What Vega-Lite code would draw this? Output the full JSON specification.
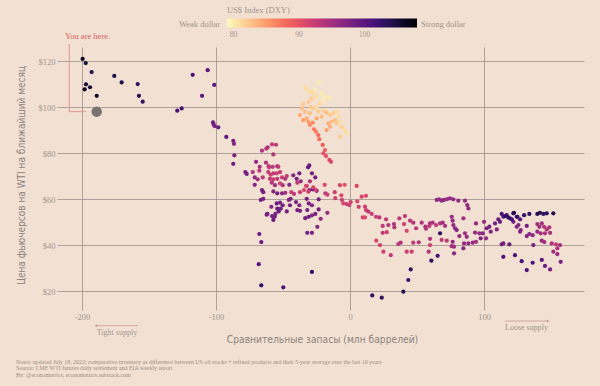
{
"$schema": "https://vega.github.io/schema/vega-lite/v6.json",
"width": 524, "height": 256,
"autosize": {"type": "none"},
"padding": {"left": 60, "top": 47, "right": 16, "bottom": 83},
"background": "#f2e0d2",
"config": {"view": {"stroke": null}},
"title": {"text": ["Notes: updated July 18, 2022; comparative inventory as difference between US oil stocks + refined products and their 5-year average over the last 10 years", "Source: CME WTI futures daily settlement and EIA weekly report", "By: @econometrics, econometrics.substack.com"], "orient": "bottom", "anchor": "start", "frame": "bounds", "font": "Liberation Serif", "fontSize": 5.9, "fontWeight": "normal", "color": "#9a8f88", "lineHeight": 6.6, "offset": 14},
"datasets": {
"pts": [
{"inv":-199.5,"wti":120.9,"dxy":106},{"inv":-197.2,"wti":119.1,"dxy":105},{"inv":-192.8,"wti":115.2,"dxy":104},{"inv":-175.9,"wti":113.5,"dxy":104},{"inv":-170.4,"wti":110.7,"dxy":104},{"inv":-158.4,"wti":110,"dxy":103},{"inv":-197,"wti":109.9,"dxy":105},{"inv":-198,"wti":107.7,"dxy":106},{"inv":-194,"wti":108.6,"dxy":105},{"inv":-189,"wti":104.9,"dxy":106},{"inv":-157.5,"wti":104.9,"dxy":104},{"inv":-154.7,"wti":102.3,"dxy":103},{"inv":-128.9,"wti":98.4,"dxy":101},{"inv":-125.6,"wti":99.4,"dxy":101},
{"inv":-117.4,"wti":114.0,"dxy":101},{"inv":-106.2,"wti":116.0,"dxy":100},{"inv":-101.3,"wti":109.6,"dxy":100},{"inv":-110.4,"wti":104.9,"dxy":100},{"inv":-102.2,"wti":93.3,"dxy":99},{"inv":-101.7,"wti":92.3,"dxy":98},{"inv":-101,"wti":91.7,"dxy":98},{"inv":-98.3,"wti":91.2,"dxy":99},{"inv":-92.3,"wti":87.0,"dxy":100},{"inv":-87.1,"wti":85.3,"dxy":98},{"inv":-86.6,"wti":84.0,"dxy":97},{"inv":-86.3,"wti":79.0,"dxy":98},{"inv":-87.1,"wti":75.3,"dxy":99},
{"inv":-65.7,"wti":81.0,"dxy":94},{"inv":-62.5,"wti":81.9,"dxy":93},{"inv":-61.4,"wti":82.5,"dxy":94},{"inv":-58.2,"wti":83.8,"dxy":93},{"inv":-55.2,"wti":83.6,"dxy":93},{"inv":-57.2,"wti":79.4,"dxy":94},{"inv":-70.1,"wti":76.2,"dxy":96},{"inv":-67.4,"wti":74.0,"dxy":95},{"inv":-62.7,"wti":75.8,"dxy":94},{"inv":-60.7,"wti":74.3,"dxy":93},{"inv":-57.7,"wti":74.0,"dxy":93},{"inv":-54.3,"wti":74.3,"dxy":94},
{"inv":-60.4,"wti":73.8,"dxy":93},{"inv":-53.5,"wti":74.0,"dxy":93},{"inv":-78.1,"wti":71.7,"dxy":98},{"inv":-77.1,"wti":70.9,"dxy":98},{"inv":-72.6,"wti":71.7,"dxy":94},{"inv":-71.1,"wti":69.4,"dxy":96},{"inv":-67.7,"wti":72.3,"dxy":93},{"inv":-65.1,"wti":69.4,"dxy":93},{"inv":-68.9,"wti":68.6,"dxy":95},{"inv":-71.1,"wti":66.2,"dxy":97},
{"inv":-61.0,"wti":71.7,"dxy":93},{"inv":-59.2,"wti":70.6,"dxy":92},{"inv":-57.2,"wti":71.2,"dxy":93},{"inv":-54.7,"wti":71.2,"dxy":92},{"inv":-52.2,"wti":71.7,"dxy":93},{"inv":-59.7,"wti":68.8,"dxy":93},{"inv":-57.2,"wti":68.6,"dxy":92},{"inv":-54.3,"wti":68.8,"dxy":93},{"inv":-50.7,"wti":69.4,"dxy":92},{"inv":-48.3,"wti":68.8,"dxy":94},{"inv":-47.2,"wti":70.0,"dxy":93},
{"inv":-52.2,"wti":66.8,"dxy":92},{"inv":-50.2,"wti":66.0,"dxy":94},{"inv":-45.3,"wti":66.2,"dxy":97},{"inv":-56.0,"wti":66.0,"dxy":95},{"inv":-58.4,"wti":67.1,"dxy":94},
{"inv":-42.3,"wti":70.3,"dxy":97},{"inv":-39.8,"wti":68.8,"dxy":98},{"inv":-37.8,"wti":71.2,"dxy":98},{"inv":-36.8,"wti":67.7,"dxy":96},{"inv":-39.3,"wti":67.1,"dxy":93},{"inv":-31.3,"wti":73.8,"dxy":99},{"inv":-30.4,"wti":74.6,"dxy":99},{"inv":-28.4,"wti":71.2,"dxy":98},{"inv":-25.9,"wti":69.4,"dxy":98},{"inv":-29.9,"wti":67.7,"dxy":94},
{"inv":-65.7,"wti":63.9,"dxy":98},{"inv":-64.7,"wti":63.0,"dxy":98},{"inv":-57.2,"wti":63.3,"dxy":97},{"inv":-54.3,"wti":62.5,"dxy":98},{"inv":-50.7,"wti":62.5,"dxy":97},{"inv":-48.3,"wti":62.7,"dxy":95},{"inv":-43.8,"wti":63.0,"dxy":92},{"inv":-41.8,"wti":62.2,"dxy":93},{"inv":-37.3,"wti":63.0,"dxy":92},{"inv":-34.3,"wti":63.9,"dxy":91},{"inv":-32.3,"wti":65.7,"dxy":93},{"inv":-30.4,"wti":63.9,"dxy":96},{"inv":-27.8,"wti":64.2,"dxy":98},{"inv":-24.9,"wti":63.6,"dxy":99},
{"inv":-66.6,"wti":59.6,"dxy":98},{"inv":-64.7,"wti":60.1,"dxy":98},{"inv":-58.7,"wti":56.6,"dxy":97},{"inv":-54.7,"wti":58.1,"dxy":99},{"inv":-52.2,"wti":58.4,"dxy":98},{"inv":-54.3,"wti":55.8,"dxy":99},{"inv":-51.7,"wti":55.8,"dxy":98},{"inv":-53.2,"wti":54.6,"dxy":99},{"inv":-50.2,"wti":57.3,"dxy":98},{"inv":-45.7,"wti":59.6,"dxy":97},{"inv":-44.3,"wti":60.1,"dxy":98},{"inv":-44.8,"wti":57.3,"dxy":98},{"inv":-47.2,"wti":54.6,"dxy":98},{"inv":-55.7,"wti":53.5,"dxy":98},{"inv":-56.2,"wti":52.3,"dxy":98},{"inv":-57.2,"wti":50.9,"dxy":99},{"inv":-58.2,"wti":52.6,"dxy":98},{"inv":-61.7,"wti":53.5,"dxy":99},{"inv":-62.2,"wti":53.2,"dxy":98},
{"inv":-40.3,"wti":58.7,"dxy":98},{"inv":-37.8,"wti":57.3,"dxy":97},{"inv":-39.3,"wti":55.2,"dxy":98},{"inv":-37.3,"wti":54.9,"dxy":98},{"inv":-30.8,"wti":58.1,"dxy":98},{"inv":-32.3,"wti":60.1,"dxy":98},{"inv":-28.4,"wti":57.3,"dxy":97},{"inv":-31.9,"wti":55.2,"dxy":98},{"inv":-30.8,"wti":52.3,"dxy":99},{"inv":-33.4,"wti":51.7,"dxy":98},{"inv":-28.4,"wti":52.9,"dxy":97},{"inv":-25.9,"wti":53.5,"dxy":98},{"inv":-23.4,"wti":55.5,"dxy":98},{"inv":-21.9,"wti":51.4,"dxy":96},{"inv":-24.4,"wti":47.9,"dxy":97},{"inv":-31.9,"wti":45.3,"dxy":98},{"inv":-28.4,"wti":45.3,"dxy":98},{"inv":-16.9,"wti":54.0,"dxy":96},{"inv":-23.4,"wti":59.9,"dxy":98},
{"inv":-32.8,"wti":65.7,"dxy":91},{"inv":-31.1,"wti":63.2,"dxy":92},{"inv":-27.4,"wti":65.1,"dxy":91},{"inv":-25.4,"wti":63.9,"dxy":92},{"inv":-18.9,"wti":66.2,"dxy":91},{"inv":-18.4,"wti":62.5,"dxy":93},{"inv":-16.9,"wti":61.9,"dxy":92},{"inv":-11.4,"wti":63.0,"dxy":92},{"inv":-7.5,"wti":66.0,"dxy":91},{"inv":-4.0,"wti":66.2,"dxy":90},{"inv":-11.0,"wti":60.4,"dxy":92},{"inv":-6.5,"wti":61.6,"dxy":91},{"inv":-6.0,"wti":59.6,"dxy":92},{"inv":-5.0,"wti":58.1,"dxy":91},{"inv":-2.5,"wti":57.8,"dxy":92},{"inv":0.5,"wti":58.7,"dxy":92},{"inv":5.4,"wti":59.0,"dxy":91},{"inv":6.5,"wti":56.6,"dxy":92},{"inv":5.0,"wti":65.7,"dxy":91},{"inv":-0.5,"wti":57.4,"dxy":92},
{"inv":-67.7,"wti":44.8,"dxy":99},{"inv":-66.2,"wti":41.3,"dxy":99},{"inv":-68.1,"wti":31.7,"dxy":100},{"inv":-66.2,"wti":22.5,"dxy":103},{"inv":-49.8,"wti":21.6,"dxy":101},{"inv":-28.4,"wti":28.3,"dxy":103},
{"inv":-33.6,"wti":108.6,"dxy":81},{"inv":-32.3,"wti":107.4,"dxy":81},{"inv":-29.9,"wti":106.7,"dxy":81},{"inv":-27.4,"wti":106.0,"dxy":81},{"inv":-26.1,"wti":107.4,"dxy":80},{"inv":-22.9,"wti":110.6,"dxy":80},{"inv":-24.9,"wti":104.5,"dxy":81},{"inv":-28.6,"wti":103.8,"dxy":82},{"inv":-31.1,"wti":102.3,"dxy":82},{"inv":-34.9,"wti":101.3,"dxy":82},{"inv":-36.0,"wti":99.4,"dxy":83},{"inv":-33.6,"wti":98.0,"dxy":83},{"inv":-37.3,"wti":96.5,"dxy":84},{"inv":-34.9,"wti":94.3,"dxy":85},{"inv":-31.1,"wti":93.6,"dxy":85},{"inv":-29.9,"wti":92.2,"dxy":86},{"inv":-27.8,"wti":93.2,"dxy":86},{"inv":-26.9,"wti":90.3,"dxy":87},{"inv":-25.4,"wti":89.3,"dxy":87},{"inv":-23.7,"wti":87.8,"dxy":88},{"inv":-22.9,"wti":86.0,"dxy":88},{"inv":-20.4,"wti":83.5,"dxy":89},{"inv":-18.7,"wti":81.3,"dxy":89},{"inv":-19.9,"wti":79.9,"dxy":90},{"inv":-17.9,"wti":78.7,"dxy":90},{"inv":-15.4,"wti":77.0,"dxy":91},{"inv":-14.2,"wti":76.2,"dxy":91},
{"inv":-19.9,"wti":98.4,"dxy":82},{"inv":-17.4,"wti":97.5,"dxy":83},{"inv":-14.9,"wti":96.5,"dxy":82},{"inv":-12.5,"wti":97.3,"dxy":82},{"inv":-9.9,"wti":98.0,"dxy":81},{"inv":-8.7,"wti":95.8,"dxy":81},{"inv":-11.2,"wti":94.3,"dxy":83},{"inv":-13.7,"wti":93.6,"dxy":83},{"inv":-16.2,"wti":92.9,"dxy":84},{"inv":-9.9,"wti":92.9,"dxy":82},{"inv":-7.5,"wti":93.6,"dxy":81},{"inv":-6.2,"wti":91.4,"dxy":82},{"inv":-3.7,"wti":90.0,"dxy":81},{"inv":-2.5,"wti":88.6,"dxy":81},{"inv":-7.5,"wti":87.1,"dxy":82},{"inv":-14.9,"wti":91.4,"dxy":84},{"inv":-17.4,"wti":90.0,"dxy":85},{"inv":-21.1,"wti":95.8,"dxy":83},{"inv":-24.9,"wti":100.1,"dxy":81},{"inv":-22.4,"wti":101.6,"dxy":81},{"inv":-19.9,"wti":103.0,"dxy":80},{"inv":-23.7,"wti":98.0,"dxy":82},{"inv":-27.4,"wti":99.4,"dxy":82},{"inv":-29.9,"wti":97.3,"dxy":83},{"inv":-32.3,"wti":95.1,"dxy":84},{"inv":-21.1,"wti":106.0,"dxy":80},{"inv":-18.7,"wti":104.5,"dxy":80},{"inv":-14.9,"wti":103.8,"dxy":80},{"inv":-29.3,"wti":100.1,"dxy":82},{"inv":-24.9,"wti":95.1,"dxy":84},
{"inv":8.7,"wti":61.0,"dxy":91},{"inv":11.9,"wti":61.4,"dxy":91},{"inv":11.2,"wti":56.7,"dxy":92},{"inv":11.9,"wti":55.2,"dxy":92},{"inv":13.7,"wti":54.5,"dxy":93},{"inv":16.2,"wti":53.5,"dxy":92},{"inv":9.5,"wti":52.0,"dxy":91},{"inv":11.2,"wti":52.0,"dxy":91},{"inv":19.4,"wti":52.3,"dxy":92},{"inv":21.9,"wti":52.0,"dxy":93},{"inv":26.9,"wti":51.2,"dxy":93},{"inv":24.4,"wti":48.3,"dxy":93},{"inv":28.6,"wti":48.7,"dxy":94},{"inv":24.4,"wti":45.3,"dxy":93},{"inv":27.4,"wti":45.6,"dxy":92},{"inv":32.8,"wti":49.1,"dxy":94},{"inv":33.1,"wti":47.7,"dxy":94},{"inv":36.8,"wti":51.6,"dxy":93},{"inv":41.0,"wti":52.6,"dxy":93},{"inv":40.3,"wti":49.1,"dxy":92},{"inv":42.3,"wti":46.2,"dxy":91},{"inv":44.8,"wti":50.6,"dxy":93},{"inv":47.2,"wti":49.7,"dxy":94},{"inv":49.3,"wti":47.3,"dxy":93},{"inv":53.5,"wti":49.7,"dxy":94},{"inv":56.2,"wti":48.0,"dxy":95},{"inv":56.7,"wti":47.1,"dxy":94},{"inv":59.7,"wti":49.4,"dxy":95},{"inv":59.2,"wti":48.3,"dxy":93},{"inv":61.7,"wti":49.7,"dxy":94},{"inv":64.2,"wti":48.7,"dxy":93},{"inv":67.2,"wti":49.4,"dxy":94},{"inv":69.2,"wti":49.7,"dxy":95},{"inv":70.9,"wti":48.3,"dxy":94},{"inv":67.2,"wti":45.1,"dxy":103},{"inv":68.4,"wti":42.2,"dxy":93},{"inv":72.2,"wti":41.9,"dxy":93},{"inv":59.7,"wti":42.7,"dxy":94},{"inv":59.7,"wti":40.0,"dxy":92},{"inv":58.7,"wti":37.1,"dxy":94},{"inv":60.7,"wti":33.2,"dxy":103},{"inv":65.4,"wti":35.3,"dxy":101},
{"inv":75.9,"wti":52.3,"dxy":96},{"inv":76.6,"wti":50.6,"dxy":96},{"inv":78.4,"wti":47.3,"dxy":97},{"inv":79.6,"wti":46.5,"dxy":97},{"inv":76.6,"wti":41.4,"dxy":96},{"inv":75.9,"wti":39.5,"dxy":95},{"inv":77.6,"wti":39.3,"dxy":95},{"inv":81.6,"wti":43.9,"dxy":96},
{"inv":19.6,"wti":41.9,"dxy":91},{"inv":22.4,"wti":40.0,"dxy":92},{"inv":24.9,"wti":37.1,"dxy":92},{"inv":30.4,"wti":35.6,"dxy":93},{"inv":36.0,"wti":40.4,"dxy":93},{"inv":37.8,"wti":41.0,"dxy":94},{"inv":42.3,"wti":37.1,"dxy":92},{"inv":46.0,"wti":37.1,"dxy":92},{"inv":47.2,"wti":41.0,"dxy":93},{"inv":51.3,"wti":41.2,"dxy":94},
{"inv":64.7,"wti":59.6,"dxy":96},{"inv":66.6,"wti":59.9,"dxy":96},{"inv":68.4,"wti":59.3,"dxy":96},{"inv":70.1,"wti":59.6,"dxy":97},{"inv":72.6,"wti":60.0,"dxy":96},{"inv":74.6,"wti":60.3,"dxy":96},{"inv":77.1,"wti":59.9,"dxy":96},{"inv":80.8,"wti":59.3,"dxy":96},{"inv":85.8,"wti":59.3,"dxy":96},{"inv":87.5,"wti":57.4,"dxy":96},{"inv":88.3,"wti":55.9,"dxy":96},
{"inv":45.3,"wti":29.4,"dxy":103},{"inv":43.5,"wti":24.8,"dxy":102},{"inv":39.8,"wti":19.7,"dxy":104},{"inv":23.7,"wti":17.1,"dxy":103},{"inv":16.6,"wti":18.1,"dxy":103},
{"inv":77.1,"wti":48.7,"dxy":96},{"inv":77.6,"wti":36.4,"dxy":97},{"inv":84.6,"wti":51.6,"dxy":95},{"inv":85.8,"wti":45.1,"dxy":95},{"inv":87.1,"wti":43.6,"dxy":96},{"inv":85.1,"wti":40.7,"dxy":96},{"inv":84.6,"wti":38.6,"dxy":97},{"inv":88.3,"wti":40.7,"dxy":96},{"inv":94.0,"wti":49.4,"dxy":96},{"inv":93.3,"wti":45.4,"dxy":96},{"inv":94.0,"wti":41.4,"dxy":95},{"inv":91.6,"wti":41.0,"dxy":96},{"inv":100.0,"wti":50.1,"dxy":96},{"inv":99.0,"wti":45.1,"dxy":97},{"inv":102.0,"wti":47.3,"dxy":98},{"inv":104.0,"wti":48.0,"dxy":98},{"inv":105.0,"wti":45.8,"dxy":97},{"inv":101.5,"wti":42.9,"dxy":96},{"inv":96.5,"wti":45.1,"dxy":96},{"inv":97.5,"wti":42.9,"dxy":97},
{"inv":108.2,"wti":49.4,"dxy":98},{"inv":109.5,"wti":46.8,"dxy":97},{"inv":111.9,"wti":50.1,"dxy":99},{"inv":110.7,"wti":51.2,"dxy":99},{"inv":114.4,"wti":52.3,"dxy":100},{"inv":113.2,"wti":53.5,"dxy":101},{"inv":116.9,"wti":53.0,"dxy":101},{"inv":121.9,"wti":53.8,"dxy":102},{"inv":119.4,"wti":51.6,"dxy":99},{"inv":124.4,"wti":52.3,"dxy":101},{"inv":126.9,"wti":51.2,"dxy":100},{"inv":121.9,"wti":50.1,"dxy":98},{"inv":125.6,"wti":48.7,"dxy":97},{"inv":126.9,"wti":45.8,"dxy":97},
{"inv":115.7,"wti":52.6,"dxy":103},{"inv":118.1,"wti":52.0,"dxy":103},{"inv":120.7,"wti":51.2,"dxy":102},{"inv":122.4,"wti":54.0,"dxy":104},{"inv":124.9,"wti":52.3,"dxy":103},{"inv":129.9,"wti":53.0,"dxy":103},{"inv":133.8,"wti":53.5,"dxy":103},{"inv":139.8,"wti":53.5,"dxy":104},{"inv":141.8,"wti":54.0,"dxy":104},{"inv":144.3,"wti":53.5,"dxy":103},{"inv":146.8,"wti":53.8,"dxy":103},{"inv":151.7,"wti":53.8,"dxy":104},
{"inv":124.4,"wti":47.9,"dxy":97},{"inv":127.4,"wti":46.5,"dxy":97},{"inv":131.9,"wti":48.3,"dxy":98},{"inv":133.8,"wti":44.8,"dxy":97},{"inv":136.3,"wti":44.3,"dxy":96},{"inv":139.8,"wti":49.1,"dxy":95},{"inv":141.3,"wti":47.9,"dxy":95},{"inv":143.1,"wti":49.4,"dxy":95},{"inv":144.8,"wti":47.9,"dxy":94},{"inv":139.8,"wti":45.8,"dxy":96},{"inv":142.3,"wti":45.1,"dxy":95},{"inv":145.5,"wti":45.1,"dxy":94},{"inv":146.8,"wti":46.8,"dxy":94},{"inv":149.3,"wti":45.3,"dxy":95},{"inv":148.7,"wti":47.7,"dxy":94},{"inv":143.1,"wti":41.9,"dxy":96},{"inv":145.0,"wti":41.3,"dxy":95},{"inv":150.5,"wti":40.7,"dxy":94},{"inv":153.7,"wti":40.3,"dxy":93},{"inv":154.7,"wti":38.6,"dxy":94},{"inv":156.7,"wti":40.0,"dxy":95},{"inv":151.7,"wti":37.1,"dxy":95},{"inv":154.7,"wti":36.1,"dxy":96},{"inv":157.2,"wti":32.7,"dxy":98},
{"inv":113.2,"wti":40.3,"dxy":98},{"inv":114.4,"wti":40.7,"dxy":98},{"inv":118.9,"wti":40.3,"dxy":99},{"inv":114.4,"wti":34.9,"dxy":101},{"inv":123.1,"wti":35.6,"dxy":101},{"inv":128.1,"wti":33.0,"dxy":101},{"inv":131.9,"wti":29.1,"dxy":101},{"inv":136.3,"wti":32.3,"dxy":101},{"inv":143.1,"wti":33.5,"dxy":100},{"inv":145.5,"wti":30.9,"dxy":99},{"inv":149.3,"wti":29.4,"dxy":98},{"inv":136.8,"wti":40.0,"dxy":98},{"inv":131.9,"wti":43.9,"dxy":97}
]
},
"encoding": {
 "x": {"field": "inv", "type": "quantitative", "scale": {"domain": [-216.4, 174.6], "nice": false, "zero": false},
  "axis": {"title": "Сравнительные запасы (млн баррелей)", "values": [-200, -100, 0, 100], "labelExpr": "'' + datum.value", "grid": true, "gridColor": "#9a918a", "gridWidth": 0.8, "domain": false, "ticks": true, "tickColor": "#9a918a", "tickWidth": 0.8, "tickSize": 7, "labelPadding": 2, "labelFont": "Liberation Serif", "labelFontSize": 8.5, "labelColor": "#a0968f", "titleFont": "DejaVu Sans Condensed, Liberation Sans Narrow, sans-serif", "titleFontSize": 10.2, "titleFontWeight": "normal", "titleColor": "#8c837d", "titlePadding": 14}},
 "y": {"field": "wti", "type": "quantitative", "scale": {"domain": [14.8, 126.1], "nice": false, "zero": false},
  "axis": {"title": "Цена фьючерсов на WTI на ближайший месяц", "values": [20, 40, 60, 80, 100, 120], "labelExpr": "'$' + datum.value", "grid": true, "gridColor": "#9a918a", "gridWidth": 0.8, "domain": false, "ticks": true, "tickColor": "#9a918a", "tickWidth": 0.8, "tickSize": 3, "labelPadding": 2, "labelFont": "Liberation Serif", "labelFontSize": 8.5, "labelColor": "#a0968f", "titleFont": "DejaVu Sans Condensed, Liberation Sans Narrow, sans-serif", "titleFontSize": 10, "titleFontWeight": "normal", "titleColor": "#8c837d", "titlePadding": 12}}
},
"layer": [
{"data": {"name": "pts"}, "mark": {"type": "circle", "size": 18, "opacity": 1},
 "encoding": {
  "color": {"field": "dxy", "type": "quantitative", "scale": {"scheme": "magma", "reverse": true, "domain": [79, 108], "nice": false, "zero": false},
   "legend": {"title": "US$ Index (DXY)", "orient": "none", "legendX": 167, "legendY": -41, "direction": "horizontal", "gradientLength": 190, "gradientThickness": 9, "gradientStrokeWidth": 0, "values": [80, 90, 100], "titleFont": "Liberation Serif", "titleFontSize": 8.5, "titleFontWeight": "normal", "titleColor": "#a0968f", "titleAnchor": "start", "titlePadding": 4, "labelFont": "Liberation Serif", "labelFontSize": 7.5, "labelColor": "#a0968f", "labelOffset": 3}}
 }},
{"data": {"values": [{"inv": -189, "wti": 98.0}]}, "mark": {"type": "circle", "size": 110, "color": "#787270", "opacity": 1}},
{"data": {"values": [{"inv": -209.5, "wti": 127.4, "o": 0}, {"inv": -209.5, "wti": 98.0, "o": 1}, {"inv": -197.0, "wti": 98.0, "o": 2}]}, "mark": {"type": "line", "color": "#e08d85", "strokeWidth": 0.9},
 "encoding": {"order": {"field": "o"}}},
{"data": {"values": [{"inv": -212.7, "wti": 130.9, "label": "You are here."}]}, "mark": {"type": "text", "align": "left", "baseline": "middle", "font": "Liberation Serif", "fontSize": 8.5, "color": "#d6605a"},
 "encoding": {"text": {"field": "label"}}},
{"data": {"values": [{"inv": -97.0, "wti": 136.1, "label": "Weak dollar"}]}, "mark": {"type": "text", "align": "right", "baseline": "middle", "font": "Liberation Serif", "fontSize": 8.5, "color": "#a0968f"},
 "encoding": {"text": {"field": "label"}}},
{"data": {"values": [{"inv": 53.0, "wti": 136.1, "label": "Strong dollar"}]}, "mark": {"type": "text", "align": "left", "baseline": "middle", "font": "Liberation Serif", "fontSize": 8.5, "color": "#a0968f"},
 "encoding": {"text": {"field": "label"}}},
{"data": {"values": [{"inv": -173.9, "wti": 1.96, "label": "Tight supply"}, {"inv": 131.7, "wti": 3.9, "label": "Loose supply"}]}, "mark": {"type": "text", "align": "center", "baseline": "middle", "font": "Liberation Serif", "fontSize": 8, "color": "#a0968f"},
 "encoding": {"text": {"field": "label"}}},
{"data": {"values": [{"inv": -158.2, "inv2": -189.6, "wti": 4.96}, {"inv": 115.7, "inv2": 147.8, "wti": 6.96}]}, "mark": {"type": "rule", "color": "#c9978f", "strokeWidth": 0.8},
 "encoding": {"x2": {"field": "inv2"}}},
{"data": {"values": [{"inv": -189.6, "wti": 4.96, "dir": "left"}, {"inv": 147.8, "wti": 6.96, "dir": "right"}]}, "mark": {"type": "point", "filled": true, "size": 8, "color": "#c9978f", "opacity": 1},
 "encoding": {"shape": {"field": "dir", "type": "nominal", "scale": {"domain": ["left", "right"], "range": ["triangle-left", "triangle-right"]}, "legend": null}}}
]
}
